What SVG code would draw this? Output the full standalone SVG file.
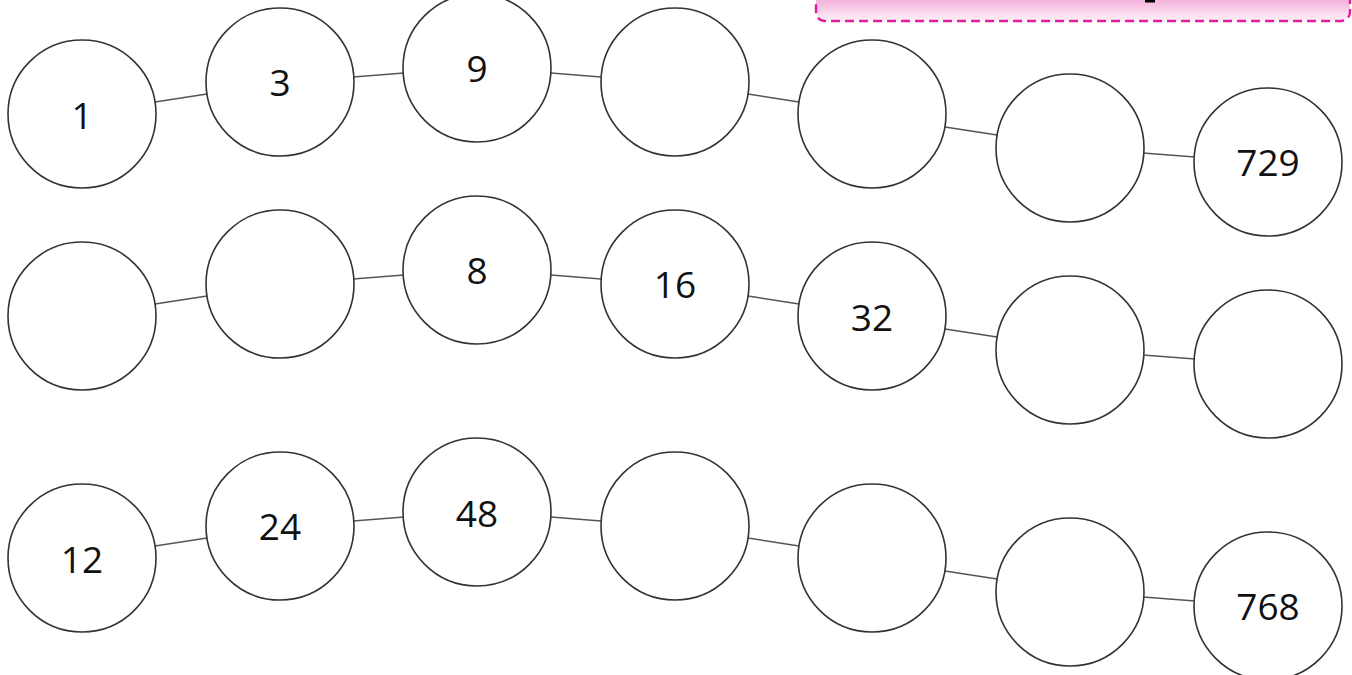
<svg xmlns="http://www.w3.org/2000/svg" width="1352" height="675" viewBox="0 0 1352 675">
<defs>
<linearGradient id="pinkg" gradientUnits="userSpaceOnUse" x1="0" y1="0" x2="0" y2="21">
<stop offset="0" stop-color="#f3b2dc"/>
<stop offset="1" stop-color="#fdf2f9"/>
</linearGradient>
</defs>
<style>
.n circle{fill:#fff;stroke:#333;stroke-width:1.6}
.n text{font-family:"Open Sans","Liberation Sans",sans-serif;font-size:37px;fill:#111;text-anchor:middle}
.c line{stroke:#555;stroke-width:1.6}
</style>
<rect width="1352" height="675" fill="#fff"/>
<g id="banner">
<rect x="816" y="-30" width="534" height="51" rx="9" fill="url(#pinkg)" stroke="#e61a9e" stroke-width="2.4" stroke-dasharray="9,5"/>
<rect x="1145" y="0" width="10" height="2.5" fill="#000"/>
</g>
<g id="connectors" class="c">
<line x1="155" y1="102" x2="207" y2="94"/>
<line x1="353" y1="77" x2="404" y2="73"/>
<line x1="551" y1="73" x2="601" y2="77"/>
<line x1="748" y1="94" x2="799" y2="102"/>
<line x1="945" y1="127" x2="997" y2="135"/>
<line x1="1143" y1="153" x2="1195" y2="157"/>
<line x1="155" y1="304" x2="207" y2="296"/>
<line x1="353" y1="279" x2="404" y2="275"/>
<line x1="551" y1="275" x2="601" y2="279"/>
<line x1="748" y1="296" x2="799" y2="304"/>
<line x1="945" y1="329" x2="997" y2="337"/>
<line x1="1143" y1="355" x2="1195" y2="359"/>
<line x1="155" y1="546" x2="207" y2="538"/>
<line x1="353" y1="521" x2="404" y2="517"/>
<line x1="551" y1="517" x2="601" y2="521"/>
<line x1="748" y1="538" x2="799" y2="546"/>
<line x1="945" y1="571" x2="997" y2="579"/>
<line x1="1143" y1="597" x2="1195" y2="601"/>
</g>
<g id="r1c1" class="n"><circle cx="82" cy="114" r="74"/><text x="82" y="129">1</text></g>
<g id="r1c2" class="n"><circle cx="280" cy="82" r="74"/><text x="280" y="96">3</text></g>
<g id="r1c3" class="n"><circle cx="477" cy="68" r="74"/><text x="477" y="82">9</text></g>
<g id="r1c4" class="n"><circle cx="675" cy="82" r="74"/></g>
<g id="r1c5" class="n"><circle cx="872" cy="114" r="74"/></g>
<g id="r1c6" class="n"><circle cx="1070" cy="148" r="74"/></g>
<g id="r1c7" class="n"><circle cx="1268" cy="162" r="74"/><text x="1268" y="176">729</text></g>
<g id="r2c1" class="n"><circle cx="82" cy="316" r="74"/></g>
<g id="r2c2" class="n"><circle cx="280" cy="284" r="74"/></g>
<g id="r2c3" class="n"><circle cx="477" cy="270" r="74"/><text x="477" y="284">8</text></g>
<g id="r2c4" class="n"><circle cx="675" cy="284" r="74"/><text x="675" y="298">16</text></g>
<g id="r2c5" class="n"><circle cx="872" cy="316" r="74"/><text x="872" y="331">32</text></g>
<g id="r2c6" class="n"><circle cx="1070" cy="350" r="74"/></g>
<g id="r2c7" class="n"><circle cx="1268" cy="364" r="74"/></g>
<g id="r3c1" class="n"><circle cx="82" cy="558" r="74"/><text x="82" y="573">12</text></g>
<g id="r3c2" class="n"><circle cx="280" cy="526" r="74"/><text x="280" y="540">24</text></g>
<g id="r3c3" class="n"><circle cx="477" cy="512" r="74"/><text x="477" y="527">48</text></g>
<g id="r3c4" class="n"><circle cx="675" cy="526" r="74"/></g>
<g id="r3c5" class="n"><circle cx="872" cy="558" r="74"/></g>
<g id="r3c6" class="n"><circle cx="1070" cy="592" r="74"/></g>
<g id="r3c7" class="n"><circle cx="1268" cy="606" r="74"/><text x="1268" y="620">768</text></g>
</svg>
